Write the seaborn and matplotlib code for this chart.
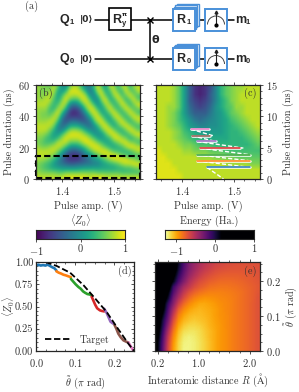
import numpy as np
import seaborn as sns
import matplotlib
matplotlib.use("Agg")
import matplotlib.pyplot as plt
from matplotlib.patches import Rectangle, Arc

sns.set_style("ticks")
plt.rcParams['font.family'] = ['cmr10', 'DejaVu Serif']
plt.rcParams['mathtext.fontset'] = 'cm'
plt.rcParams['axes.formatter.use_mathtext'] = True
plt.rcParams['axes.unicode_minus'] = False
plt.rcParams['font.size'] = 7
TXT = '#333333'
TICK_FS = 7.5
LABEL_FS = 7.3

# panel (b), <Z0> in tenths, one list per amplitude from left to right, long durations first
z0_columns = [
    [7,7,7,7,8,7,7,7,7,8,8,7,6,6,7,8,8,7,6,6,7,8],
    [6,6,6,7,8,7,6,6,7,8,8,7,6,5,6,8,8,7,5,5,6,8],
    [6,6,7,8,8,7,6,6,7,8,8,6,4,4,6,8,8,6,4,4,6,8],
    [5,7,8,8,6,4,4,6,8,8,6,4,3,4,7,8,7,5,3,3,6,8],
    [8,8,6,4,3,3,6,8,8,6,3,1,2,5,8,8,6,3,1,2,6,8],
    [5,2,1,2,4,7,9,7,4,0,-1,1,4,8,8,6,3,0,-1,2,5,8],
    [0,1,4,6,8,8,4,0,-3,-3,-1,4,7,8,7,3,-1,-3,-2,1,5,8],
    [0,4,8,9,7,3,-2,-5,-5,-2,3,7,9,8,4,-1,-5,-6,-3,1,6,9],
    [6,9,8,5,0,-4,-7,-6,-3,2,6,9,8,5,1,-4,-7,-7,-4,1,6,9],
    [8,9,7,4,-2,-6,-8,-6,-2,2,7,9,8,5,0,-5,-7,-7,-4,1,6,9],
    [7,9,8,4,0,-5,-7,-6,-3,2,6,9,8,5,1,-4,-7,-7,-3,1,6,9],
    [3,7,9,8,4,-1,-4,-6,-4,0,5,8,9,7,3,-2,-5,-5,-3,2,6,9],
    [-1,3,7,9,8,5,1,-3,-4,-2,2,6,9,9,5,2,-2,-4,-2,2,6,9],
    [-2,-2,1,5,8,9,6,2,-2,-3,0,4,7,9,8,4,0,-2,-2,2,6,8],
    [4,1,-1,0,4,8,9,7,4,0,-1,1,5,8,9,7,3,0,-1,2,6,9],
    [9,8,4,0,0,3,7,9,8,4,1,0,2,6,9,8,5,1,-1,2,5,9],
    [4,8,9,7,3,1,2,6,9,8,5,1,1,4,7,9,7,3,1,2,5,9],
    [1,2,5,9,8,5,2,2,5,9,8,5,2,2,5,9,8,5,2,2,5,8],
    [8,4,2,3,7,9,6,2,2,5,9,8,4,2,3,7,9,7,3,2,5,8],
    [7,9,7,3,3,6,9,7,3,2,6,9,8,4,2,5,9,8,4,2,5,8],
    [3,5,9,8,4,3,6,9,7,4,3,7,9,6,3,4,8,9,5,3,5,8],
    [7,3,4,8,9,5,3,6,9,7,3,4,8,8,4,3,6,9,7,3,4,8],
    [8,9,5,3,7,9,5,3,6,9,6,3,6,9,7,3,5,9,8,4,4,8],
    [3,6,9,5,3,7,9,5,3,7,9,5,3,7,9,4,3,8,8,4,4,8],
    [7,4,6,9,6,4,7,9,5,4,8,8,4,6,9,6,4,7,9,5,4,8],
    [8,8,4,5,9,6,4,8,8,4,5,9,6,4,8,8,4,5,9,6,4,8],
]

# panel (c), zoom on short durations, tenths, one list per duration from 14.5 ns to 0.5 ns
z0_short = [
    [8,8,8,7,5,1,-4,-7,-8,-7,-5,-1,3,5,6,7,7,8,8,8],
    [8,8,8,7,5,1,-4,-7,-8,-7,-4,-1,3,5,6,7,8,8,8,8],
    [8,8,8,7,5,1,-4,-6,-7,-6,-4,-1,2,4,6,7,8,8,8,8],
    [8,8,7,7,5,1,-3,-5,-6,-5,-3,0,2,4,5,7,7,8,8,8],
    [8,8,7,6,4,1,-2,-4,-4,-4,-2,0,1,3,5,6,7,8,8,8],
    [8,8,7,6,4,2,0,-2,-3,-2,-1,0,1,2,4,5,6,7,8,8],
    [8,8,7,6,5,3,1,0,-1,-1,0,0,1,2,3,4,5,6,7,8],
    [8,8,8,7,6,4,3,2,1,1,1,1,1,2,3,3,4,5,6,7],
    [8,8,8,7,6,5,4,3,3,2,2,2,2,2,3,3,3,4,5,6],
    [8,8,8,8,7,6,6,5,4,4,4,3,3,3,3,3,3,3,4,5],
    [9,8,8,8,8,7,7,6,6,6,5,5,5,4,4,4,4,4,4,4],
    [9,9,8,8,8,8,8,8,7,7,7,6,6,6,6,5,5,5,5,5],
    [9,9,9,8,8,8,8,8,8,8,8,8,8,7,7,7,7,7,6,6],
    [9,9,9,9,8,8,8,8,8,8,8,8,8,8,8,8,8,8,8,8],
    [9,9,9,9,9,8,8,8,8,8,8,8,8,8,8,8,8,8,8,8],
]

# sections in (c): start amp, stop amp, duration, colour
sec_start = [1.417, 1.419, 1.429, 1.435, 1.429, 1.429, 1.448]
sec_stop = [1.451, 1.454, 1.465, 1.511, 1.531, 1.531, 1.531]
sec_time = [7.95, 6.9, 6.0, 4.93, 3.87, 2.9, 1.85]
sec_color = ['#e377c2', '#8c564b', '#9467bd', '#d62728', '#2ca02c', '#ff7f0e', '#1f77b4']
# white dashed links between sections
link_amp = [[1.417, 1.46], [1.419, 1.465], [1.429, 1.518], [1.435, 1.531], [1.429, 1.531], [1.429, 1.531], [1.448, 1.48]]
link_time = [[7.95, 6.9], [6.9, 6.0], [6.0, 4.93], [4.93, 3.87], [3.87, 2.9], [2.9, 1.85], [1.85, 0.0]]

# panel (d)
target_theta = [0.024, 0.053, 0.087, 0.121, 0.147, 0.18, 0.206, 0.236, 0.25]
target_z = [1.0, 0.955, 0.88, 0.74, 0.61, 0.44, 0.27, 0.08, 0.0]
theta_blue = [0.0, 0.006, 0.012, 0.018, 0.024, 0.03, 0.036, 0.042, 0.047, 0.052]
z_blue = [0.96, 0.97, 0.96, 0.965, 0.96, 0.97, 0.955, 0.94, 0.93, 0.905]
theta_orange = [0.052, 0.058, 0.064, 0.07, 0.076, 0.082, 0.089]
z_orange = [0.895, 0.88, 0.87, 0.857, 0.85, 0.84, 0.83]
theta_green = [0.089, 0.095, 0.101, 0.108, 0.114, 0.12, 0.125, 0.131, 0.137, 0.142]
z_green = [0.81, 0.78, 0.75, 0.72, 0.70, 0.67, 0.655, 0.64, 0.635, 0.625]
theta_red = [0.142, 0.146, 0.151, 0.156, 0.163, 0.168, 0.174]
z_red = [0.61, 0.57, 0.52, 0.48, 0.457, 0.45, 0.445]
theta_purple = [0.174, 0.18, 0.185, 0.19, 0.197]
z_purple = [0.475, 0.43, 0.38, 0.33, 0.307]
theta_brown = [0.2, 0.205, 0.21, 0.216, 0.223, 0.23, 0.236]
z_brown = [0.295, 0.25, 0.195, 0.155, 0.12, 0.105, 0.094]
theta_pink = [0.236, 0.242, 0.248]
z_pink = [0.094, 0.05, 0.007]

# panel (e), energy in hundredths of Ha., theta from 0.25 down to 0, R from left to right
energy_grid = [
    [60,55,50,40,5,-18,-35,-45,-52,-58,-62,-66,-68,-70,-71,-72,-72,-72,-72,-72],
    [60,55,50,30,0,-22,-38,-48,-56,-62,-66,-70,-72,-73,-74,-74,-74,-74,-73,-72],
    [60,55,45,20,-8,-28,-44,-54,-62,-68,-72,-75,-77,-78,-78,-78,-77,-76,-75,-73],
    [60,50,35,10,-18,-36,-52,-62,-70,-74,-78,-80,-82,-82,-82,-81,-80,-78,-76,-74],
    [60,50,30,-12,-32,-50,-60,-70,-76,-80,-84,-85,-86,-86,-85,-84,-82,-80,-78,-75],
    [60,45,15,-20,-42,-60,-72,-80,-85,-88,-90,-90,-90,-89,-88,-86,-84,-81,-78,-74],
    [55,35,5,-30,-52,-70,-82,-90,-94,-96,-95,-94,-92,-91,-89,-87,-84,-81,-78,-73],
    [50,25,-10,-38,-65,-82,-92,-98,-102,-102,-100,-97,-94,-92,-90,-87,-84,-81,-77,-73],
    [45,20,-18,-50,-78,-92,-100,-104,-106,-104,-102,-99,-95,-92,-90,-87,-84,-81,-77,-73],
    [40,10,-25,-60,-88,-100,-106,-108,-108,-106,-103,-99,-95,-93,-90,-87,-84,-81,-77,-73],
    [35,0,-32,-70,-95,-106,-110,-112,-110,-108,-104,-100,-96,-93,-90,-87,-84,-81,-77,-73],
    [30,-5,-42,-78,-102,-112,-116,-116,-114,-110,-105,-101,-97,-93,-90,-87,-84,-81,-77,-73],
    [25,-12,-52,-86,-108,-118,-120,-120,-117,-112,-107,-102,-97,-94,-90,-87,-84,-81,-77,-73],
    [20,-18,-60,-92,-112,-122,-124,-122,-118,-113,-107,-102,-97,-94,-90,-87,-84,-81,-77,-73],
    [15,-22,-65,-96,-115,-124,-125,-123,-119,-114,-108,-102,-97,-94,-90,-87,-84,-81,-77,-73],
    [15,-25,-68,-98,-116,-125,-125,-123,-119,-114,-108,-102,-97,-94,-90,-87,-84,-81,-77,-73],
]

W, H = 299, 392
fig = plt.figure(figsize=(W / 100, H / 100), dpi=100)


def px_axes(x0, y0, x1, y1):
    return fig.add_axes([x0 / W, 1 - y1 / H, (x1 - x0) / W, (y1 - y0) / H])


def style(ax, xminor, yminor):
    ax.set_xticks(xminor, minor=True)
    ax.set_yticks(yminor, minor=True)
    ax.tick_params(which='major', length=2.5, width=0.6, pad=2, labelsize=TICK_FS, colors=TXT,
                   top=True, right=True, direction='out')
    ax.tick_params(which='minor', length=1.5, width=0.5, top=True, right=True, direction='out')
    for s in ax.spines.values():
        s.set_linewidth(0.9)


amp_minor = np.arange(1.36, 1.56, 0.02)

# (b)
ax_b = px_axes(36, 85, 140, 179)
ax_b.imshow(np.array(z0_columns).T / 10, cmap='viridis', vmin=-1, vmax=1, aspect='auto',
            extent=(1.35, 1.55, 0, 60), interpolation='bicubic')
ax_b.add_patch(Rectangle((1.35, 0.6), 0.2, 14.3, fill=False, ec='k', lw=1.5, ls=(0, (3, 1.5)), clip_on=False))
ax_b.set_xticks([1.4, 1.5])
ax_b.set_yticks([0, 20, 40, 60])
style(ax_b, amp_minor, np.arange(0, 61, 5))
ax_b.set_xlabel('Pulse amp. (V)', fontsize=LABEL_FS, color=TXT, labelpad=2.5)
ax_b.set_ylabel('Pulse duration (ns)', fontsize=LABEL_FS, color=TXT, labelpad=2)
ax_b.text(0.03, 0.97, '(b)', transform=ax_b.transAxes, va='top', color=TXT, fontsize=LABEL_FS)

# (c)
ax_c = px_axes(156, 85, 260, 179)
ax_c.imshow(np.array(z0_short) / 10, cmap='viridis', vmin=-1, vmax=1, aspect='auto',
            extent=(1.35, 1.55, 0, 15), interpolation='bilinear')
for a, t in zip(link_amp, link_time):
    sns.lineplot(x=a, y=t, ax=ax_c, color='white', lw=1, ls=(0, (3, 1.5)), errorbar=None, sort=False)
for a0, a1, t, c in zip(sec_start, sec_stop, sec_time, sec_color):
    sns.lineplot(x=[a0, a1], y=[t, t], ax=ax_c, color='white', lw=1.8, errorbar=None)
    sns.lineplot(x=[a0, a1], y=[t, t], ax=ax_c, color=c, lw=1.1, errorbar=None)
ax_c.set_xlim(1.35, 1.55)
ax_c.set_ylim(0, 15)
ax_c.set_xticks([1.4, 1.5])
ax_c.set_yticks([0, 5, 10, 15])
style(ax_c, amp_minor, np.arange(0, 15.1, 1))
ax_c.yaxis.tick_right()
ax_c.tick_params(which='both', left=True)
ax_c.yaxis.set_label_position('right')
ax_c.set_xlabel('Pulse amp. (V)', fontsize=LABEL_FS, color=TXT, labelpad=2.5)
ax_c.set_ylabel('Pulse duration (ns)', fontsize=LABEL_FS, color=TXT, labelpad=3)
ax_c.text(0.97, 0.97, '(c)', transform=ax_c.transAxes, va='top', ha='right', color=TXT, fontsize=LABEL_FS)

# colour bars
cax1 = px_axes(36, 230, 125, 239)
cax1.imshow(np.linspace(-1, 1, 256)[None, :], cmap='viridis', aspect='auto', extent=(-1, 1, 0, 1))
cax1.set_yticks([])
cax1.set_xticks([-1, 0, 1])
cax1.set_xticklabels(['$-1$', '0', '1'])
cax1.tick_params(length=2.5, width=0.6, pad=1.5, labelsize=TICK_FS, colors=TXT)
cax1.set_title(r'$\langle Z_0\rangle$', fontsize=LABEL_FS, color=TXT, pad=3.5)

E_MIN, E_MAX = -1.3, 0.15
cax2 = px_axes(164.5, 230, 254, 239)
cax2.imshow(np.linspace(E_MIN, 1, 256)[None, :], cmap='inferno_r', vmin=E_MIN, vmax=E_MAX,
            aspect='auto', extent=(E_MIN, 1, 0, 1))
cax2.set_yticks([])
cax2.set_xticks([-1, 0, 1])
cax2.set_xticklabels(['$-1$', '0', '1'])
cax2.tick_params(length=2.5, width=0.6, pad=1.5, labelsize=TICK_FS, colors=TXT)
cax2.set_title('Energy (Ha.)', fontsize=LABEL_FS, color=TXT, pad=4.5)

# (d)
ax_d = px_axes(36, 262, 134, 351)
pal = sns.color_palette('tab10')
segments = [(theta_blue, z_blue, pal[0]), (theta_orange, z_orange, pal[1]), (theta_green, z_green, pal[2]),
            (theta_red, z_red, pal[3]), (theta_purple, z_purple, pal[4]), (theta_brown, z_brown, pal[5]),
            (theta_pink, z_pink, pal[6])]
for th, zz, c in segments:
    sns.lineplot(x=th, y=zz, ax=ax_d, color=c, lw=1.9, errorbar=None)
sns.lineplot(x=target_theta, y=target_z, ax=ax_d, color='k', lw=1.3, ls=(0, (3.5, 1.5)), errorbar=None,
             label='Target')
ax_d.legend(loc='lower left', frameon=False, fontsize=LABEL_FS, labelcolor=TXT, handlelength=2.6,
            bbox_to_anchor=(0.07, 0.05), borderaxespad=0, borderpad=0.2)
ax_d.set_xlim(0, 0.25)
ax_d.set_ylim(0, 1)
ax_d.set_xticks([0, 0.1, 0.2])
ax_d.set_yticks([0, 0.25, 0.5, 0.75, 1])
ax_d.set_yticklabels(['0.00', '0.25', '0.50', '0.75', '1.00'])
style(ax_d, np.arange(0, 0.251, 0.025), np.arange(0, 1.01, 0.05))
ax_d.tick_params(which='both', direction='in')
ax_d.tick_params(axis='x', which='major', pad=4.5)
ax_d.set_xlabel(r'$\tilde{\theta}$ ($\pi$ rad)', fontsize=LABEL_FS, color=TXT, labelpad=4)
ax_d.set_ylabel(r'$\langle Z_0\rangle$', fontsize=LABEL_FS, color=TXT, labelpad=-1.5)
ax_d.text(0.98, 0.96, '(d)', transform=ax_d.transAxes, va='top', ha='right', color=TXT, fontsize=LABEL_FS)

# (e)
ax_e = px_axes(155, 262, 260, 351)
ax_e.imshow(np.array(energy_grid) / 100, cmap='inferno_r', vmin=E_MIN, vmax=E_MAX, aspect='auto',
            extent=(0.15, 2.2, 0, 0.255), interpolation='bilinear')
ax_e.set_xticks([0.2, 1.0, 2.0])
ax_e.set_yticks([0, 0.1, 0.2])
style(ax_e, np.arange(0.2, 2.2, 0.2), np.arange(0, 0.251, 0.025))
ax_e.yaxis.tick_right()
ax_e.tick_params(which='both', left=True)
ax_e.yaxis.set_label_position('right')
ax_e.set_xlabel(r'Interatomic distance $R$ ($\mathrm{\AA}$)', fontsize=LABEL_FS, color=TXT, labelpad=1.5)
ax_e.set_ylabel(r'$\tilde{\theta}$ ($\pi$ rad)', fontsize=LABEL_FS, color=TXT, labelpad=1)
ax_e.text(0.97, 0.96, '(e)', transform=ax_e.transAxes, va='top', ha='right', color=TXT, fontsize=LABEL_FS)

# (a) circuit, drawn in pixel coordinates on a transparent overlay
ov = fig.add_axes([0, 0, 1, 1], facecolor='none')
ov.set_xlim(0, W)
ov.set_ylim(H, 0)
ov.axis('off')
BLUE = '#4a90d9'
SANS = ['Liberation Sans', 'DejaVu Sans']
ov.text(32, 6, '(a)', ha='center', va='center', fontsize=LABEL_FS, color=TXT)
for wy, q, r, m in [(19.5, '1', '1', '1'), (59, '0', '0', '0')]:
    ov.plot([95, 173], [wy, wy], color='k', lw=1.1, zorder=1)
    ov.text(59, wy, 'Q', family=SANS, weight='bold', fontsize=9, ha='left', va='center')
    ov.text(69.5, wy + 2.5, q, family=SANS, weight='bold', fontsize=5.5, ha='left', va='center')
    ov.text(80, wy, '|0⟩', family=['DejaVu Sans'], weight='bold', fontsize=6.5, ha='left', va='center')
    for k in [3, 2, 1]:
        ov.add_patch(Rectangle((173 + 1.2 * k, wy - 11.5 - 1.3 * k), 22, 22, fc='white', ec=BLUE, lw=1, zorder=2))
    ov.add_patch(Rectangle((173, wy - 11), 22, 22, fc='white', ec=BLUE, lw=1.4, zorder=3))
    ov.text(181, wy, 'R', family=SANS, weight='bold', fontsize=9, ha='center', va='center', zorder=4)
    ov.text(188.5, wy + 2.5, r, family=SANS, weight='bold', fontsize=5.5, ha='center', va='center', zorder=4)
    ov.plot([197, 234], [wy, wy], color='k', lw=1.1, zorder=1)
    ov.add_patch(Rectangle((205, wy - 11), 22, 22, fc='white', ec=BLUE, lw=1.4, zorder=3))
    ov.add_patch(Arc((216, wy + 5), 17, 17, theta1=180, theta2=360, color='#444444', lw=0.7, zorder=4))
    ov.plot([216, 216], [wy + 5, wy - 8], color='#222222', lw=0.8, zorder=4)
    ov.plot([216], [wy + 5], 'o', color='k', ms=2, zorder=4)
    ov.plot([216], [wy - 8], '^', color='#222222', ms=2, zorder=4)
    ov.text(235, wy, 'm', family=SANS, weight='bold', fontsize=9, ha='left', va='center')
    ov.text(245.5, wy + 2.5, m, family=SANS, weight='bold', fontsize=5.5, ha='left', va='center')
    ov.plot([149.5], [wy], 'x', color='k', ms=5, mew=1, zorder=2)
ov.plot([149.5, 149.5], [19.5, 59], color='k', lw=1.1, zorder=2)
ov.text(155, 40, 'θ', family=['DejaVu Sans'], weight='bold', fontsize=8, ha='center', va='center')
ov.add_patch(Rectangle((108.5, 8), 22, 22, fc='white', ec='k', lw=1.2, zorder=3))
ov.text(117, 19.5, 'R', family=SANS, weight='bold', fontsize=9, ha='center', va='center', zorder=4)
ov.text(124.5, 14, 'π', family=['DejaVu Sans'], weight='bold', fontsize=4.5, ha='center', va='center', zorder=4)
ov.text(124.5, 23.5, 'y', family=SANS, weight='bold', fontsize=5.5, ha='center', va='center', zorder=4)

fig.savefig('out.png', dpi=100)
